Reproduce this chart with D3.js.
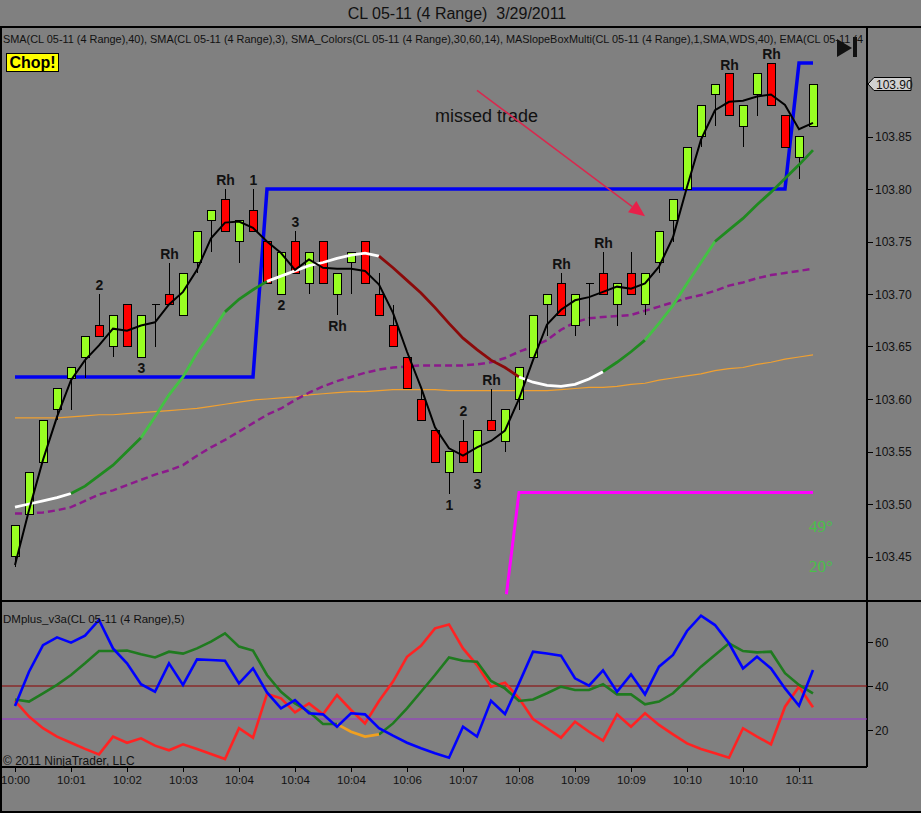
<!DOCTYPE html>
<html><head><meta charset="utf-8">
<script src="https://cdn.jsdelivr.net/npm/d3@7"></script>
<style>
html,body{margin:0;padding:0;background:#808080;overflow:hidden;}
svg{display:block;font-family:Arial,"Liberation Sans",sans-serif;}
</style>
</head><body>
<svg id="c" width="921" height="813"></svg>
<script>
// ---------------- DATA ----------------
const opens=[103.45,103.49,103.54,103.59,103.62,103.64,103.67,103.65,103.69,103.64,103.69,103.70,103.68,103.73,103.77,103.79,103.75,103.78,103.75,103.70,103.75,103.71,103.75,103.70,103.73,103.75,103.70,103.67,103.64,103.60,103.57,103.53,103.56,103.53,103.58,103.56,103.60,103.64,103.69,103.71,103.67,103.71,103.72,103.69,103.72,103.69,103.73,103.77,103.80,103.85,103.89,103.91,103.86,103.89,103.92,103.87,103.83,103.86];
const highs=[103.48,103.53,103.58,103.61,103.63,103.66,103.70,103.68,103.69,103.68,103.69,103.73,103.72,103.76,103.78,103.80,103.77,103.80,103.75,103.74,103.76,103.74,103.75,103.72,103.74,103.75,103.72,103.69,103.64,103.61,103.57,103.55,103.58,103.57,103.61,103.59,103.63,103.68,103.70,103.72,103.70,103.71,103.74,103.71,103.74,103.72,103.76,103.79,103.84,103.88,103.90,103.91,103.88,103.91,103.92,103.87,103.85,103.90];
const lows=[103.44,103.49,103.54,103.58,103.59,103.62,103.66,103.64,103.65,103.64,103.65,103.69,103.68,103.72,103.74,103.76,103.73,103.76,103.71,103.70,103.72,103.70,103.71,103.68,103.70,103.71,103.68,103.65,103.61,103.58,103.54,103.51,103.54,103.53,103.57,103.55,103.59,103.64,103.66,103.68,103.66,103.67,103.70,103.67,103.70,103.68,103.72,103.75,103.80,103.84,103.86,103.87,103.84,103.87,103.88,103.84,103.81,103.86];
const closes=[103.48,103.53,103.58,103.61,103.63,103.66,103.66,103.68,103.65,103.68,103.69,103.69,103.72,103.76,103.78,103.76,103.77,103.76,103.71,103.74,103.72,103.74,103.71,103.72,103.74,103.71,103.68,103.65,103.61,103.58,103.54,103.55,103.54,103.57,103.57,103.59,103.63,103.68,103.70,103.68,103.70,103.71,103.70,103.71,103.70,103.72,103.76,103.79,103.84,103.88,103.90,103.87,103.88,103.91,103.88,103.84,103.85,103.90];

// SMA(3) (black line)
const sma3=[103.442,103.494,103.542,103.583,103.618,103.637,103.651,103.667,103.665,103.670,103.673,103.690,103.702,103.723,103.753,103.768,103.769,103.763,103.750,103.739,103.723,103.733,103.725,103.724,103.724,103.722,103.709,103.682,103.645,103.611,103.573,103.553,103.546,103.554,103.560,103.570,103.600,103.637,103.671,103.685,103.694,103.697,103.702,103.707,103.705,103.710,103.726,103.754,103.802,103.847,103.875,103.883,103.884,103.888,103.890,103.880,103.857,103.863];

// SMA_Colors (multi-colour line) and its per-segment state
const smaColors=[103.497,103.500,103.503,103.506,103.510,103.517,103.527,103.537,103.550,103.563,103.583,103.604,103.621,103.644,103.663,103.683,103.695,103.704,103.712,103.717,103.722,103.727,103.730,103.734,103.737,103.739,103.736,103.725,103.713,103.701,103.687,103.672,103.658,103.647,103.637,103.630,103.621,103.616,103.613,103.612,103.614,103.619,103.626,103.635,103.645,103.656,103.672,103.689,103.710,103.730,103.750,103.761,103.772,103.785,103.797,103.810,103.823,103.837];
const smaColorState=("ffff"+"uuuuu"+"ssssss"+"uuu"+"ffffffff"+"dddddddddd"+"ffffff"+"uuu"+"sssss"+"uuuuuuu").split("");

// EMA (purple dashed)
const emaLine=[103.491,103.491,103.492,103.494,103.497,103.503,103.509,103.513,103.518,103.523,103.528,103.532,103.537,103.546,103.554,103.561,103.569,103.577,103.585,103.591,103.599,103.606,103.612,103.617,103.621,103.625,103.628,103.630,103.631,103.632,103.632,103.632,103.632,103.633,103.635,103.639,103.645,103.650,103.656,103.666,103.673,103.677,103.678,103.679,103.680,103.684,103.688,103.692,103.696,103.699,103.703,103.708,103.711,103.715,103.718,103.720,103.722,103.724];

// SMA(40) (orange thin)
const sma40=[103.582,103.582,103.582,103.582,103.583,103.584,103.585,103.585,103.586,103.587,103.588,103.589,103.590,103.591,103.593,103.595,103.597,103.599,103.600,103.601,103.602,103.604,103.605,103.606,103.607,103.607,103.608,103.609,103.609,103.609,103.609,103.608,103.608,103.608,103.608,103.608,103.608,103.608,103.608,103.609,103.610,103.611,103.611,103.612,103.614,103.615,103.618,103.620,103.622,103.624,103.627,103.629,103.630,103.633,103.635,103.638,103.640,103.642];

// MASlopeBox (blue step) and magenta box
const blueIdx=[0,17,18,55,56,57];
const blueVal=[103.621,103.621,103.80,103.80,103.92,103.92];
const magentaIdx=[35.1,36,57];
const magentaVal=[103.414,103.511,103.511];

// Bar labels: [bar index, text, side]
const barLabels=[[6,"2","a"],[9,"3","b"],[11,"Rh","a"],[15,"Rh","a"],[17,"1","a"],[19,"2","b"],[20,"3","a"],[23,"Rh","b"],[31,"1","b"],[32,"2","a"],[33,"3","b"],[34,"Rh","a"],[39,"Rh","a"],[42,"Rh","a"],[51,"Rh","a"],[54,"Rh","a"]];

// Annotation: "missed trade" text and arrow (bar index, price)
const noteText="missed trade";
const notePos=[30,103.864];
const arrowFrom=[33,103.894];
const arrowTo=[45,103.774];

// Axis ticks
const priceTicks=[103.45,103.50,103.55,103.60,103.65,103.70,103.75,103.80,103.85];
const timeTickIdx=[0,4,8,12,16,20,24,28,32,36,40,44,48,52,56];
const timeTickLabels=["10:00","10:01","10:02","10:03","10:04","10:04","10:04","10:06","10:07","10:08","10:09","10:09","10:10","10:10","10:11"];
const dmTicks=[20,40,60];
const dmRefLevels=[40,25];

// DMplus panel
const dmBlue=[30.9,46.5,58.6,62.1,59.7,62.9,70,57.1,50.3,40.8,37.4,50.3,40.5,52.1,51.8,51.5,41.2,48,37.1,29.8,33.6,27.6,27.1,21.5,27.6,27.1,20.8,17.4,14.2,11.7,9.4,7.4,21.5,17,33.3,27.3,41.2,55.6,54.8,53.8,43.5,40.2,47.1,37.4,45.3,36.2,48.8,54.1,65,72,67.7,59.4,48,53.3,48,38.9,31,47.3];
const dmGreen=[33.9,32.9,36.7,40.5,45,50.3,55.9,55.9,56.1,54.4,53,55.6,54.7,57.1,60.2,63.9,57.9,56.1,45,37.4,32.1,28.3,22.7,22.7,19.2,17,18,23,29.8,37.4,45,53,51.5,51,42.3,38.9,33.2,33.9,36.7,39.7,38.2,38.2,40.8,36.2,36.2,31.7,32.9,36.7,42.7,48.8,54.1,59.4,55.9,55.3,55.6,45.8,40.5,36.7];
const dmRed=[33.2,26.1,20.8,17,14.2,11.4,8.9,17,14.2,16.2,12.9,10.8,13.5,11.4,9.1,6.8,20.8,16.5,36.4,34.4,28,32.1,27.1,35.9,29.1,23,33.2,42,53.3,58.3,66.2,68,57.1,49.5,39.7,41.5,34.4,25,20.8,16.5,23.8,19.2,15.2,27.1,21.5,27.6,22.3,18,13.9,11.4,9.4,7.4,20.8,17,13.5,30.6,39.7,30.3];
const dmGreenOrangeRun=[23,26];

const titleText="CL 05-11 (4 Range)\u00A0\u00A03/29/2011";
const indicatorText="SMA(CL 05-11 (4 Range),40), SMA(CL 05-11 (4 Range),3), SMA_Colors(CL 05-11 (4 Range),30,60,14), MASlopeBoxMulti(CL 05-11 (4 Range),1,SMA,WDS,40), EMA(CL 05-11 (4";
const dmText="DMplus_v3a(CL 05-11 (4 Range),5)";
const copyText="\u00A9 2011 NinjaTrader, LLC";

// ---------------- LAYOUT ----------------
const W=921,H=813;
const axisX=867;
const mainTop=27, mainBot=601, lowTop=601, lowBot=767;
const svg=d3.select("#c");
const n=closes.length;

const x=d3.scaleLinear().domain([0,57]).range([15,813]);
const y=d3.scaleLinear().domain([103.45,103.90]).range([556.5,84]);
const yd=d3.scaleLinear().domain([20,60]).range([730,642]);

const defs=svg.append("defs");
defs.append("clipPath").attr("id","cm").append("rect").attr("x",2).attr("y",mainTop+1).attr("width",axisX-2).attr("height",mainBot-mainTop-1);
defs.append("clipPath").attr("id","cl").append("rect").attr("x",2).attr("y",lowTop+1).attr("width",axisX-2).attr("height",lowBot-lowTop-1);

svg.append("rect").attr("width",W).attr("height",H).attr("fill","#808080");

// title
svg.append("text").attr("x",457).attr("y",19).attr("text-anchor","middle")
  .attr("font-size",16).attr("fill","#111").text(titleText);

// frame lines
const frame=svg.append("g").attr("stroke","#000").attr("stroke-width",1.2).attr("shape-rendering","crispEdges");
frame.append("line").attr("x1",0).attr("x2",W).attr("y1",mainTop).attr("y2",mainTop);
frame.append("line").attr("x1",0).attr("x2",W).attr("y1",mainBot).attr("y2",mainBot);
frame.append("line").attr("x1",0).attr("x2",axisX).attr("y1",lowBot).attr("y2",lowBot);
frame.append("line").attr("x1",1).attr("x2",1).attr("y1",mainTop).attr("y2",812);
frame.append("line").attr("x1",0).attr("x2",W).attr("y1",812).attr("y2",812);
frame.append("line").attr("x1",axisX).attr("x2",axisX).attr("y1",mainTop).attr("y2",lowBot);

// indicator line text
svg.append("text").attr("x",3).attr("y",43).attr("font-size",11)
  .attr("fill","#111").attr("textLength",860).attr("lengthAdjust","spacingAndGlyphs").text(indicatorText);

// ---------- main panel ----------
const gm=svg.append("g").attr("clip-path","url(#cm)");

// orange SMA40
gm.append("path").datum(sma40).attr("fill","none").attr("stroke","#f0a030").attr("stroke-width",1.2)
  .attr("d",d3.line().x((d,i)=>x(i)).y(d=>y(d)));
// purple dashed EMA
gm.append("path").datum(emaLine).attr("fill","none").attr("stroke","#8b1a8b").attr("stroke-width",2.5)
  .attr("stroke-dasharray","7,4").attr("d",d3.line().x((d,i)=>x(i)).y(d=>y(d)));
// blue step
gm.append("path").datum(blueIdx.map((b,k)=>[b,blueVal[k]])).attr("fill","none").attr("stroke","#0000f0")
  .attr("stroke-width",3.5).attr("d",d3.line().x(d=>x(d[0])).y(d=>y(d[1])));
// magenta
gm.append("path").datum(magentaIdx.map((b,k)=>[b,magentaVal[k]])).attr("fill","none").attr("stroke","#ff00ff")
  .attr("stroke-width",3).attr("d",d3.line().x(d=>x(d[0])).y(d=>y(d[1])));

// candles
const up="#99ff22", dn="#ff0000";
const cg=gm.append("g").attr("shape-rendering","crispEdges");
d3.range(n).forEach(i=>{
  const cx=Math.round(x(i))+0.5;
  const o=opens[i], c=closes[i];
  cg.append("line").attr("x1",cx).attr("x2",cx).attr("y1",y(highs[i])).attr("y2",y(lows[i]))
    .attr("stroke","#000").attr("stroke-width",1);
  const top=y(Math.max(o,c)), bot=y(Math.min(o,c));
  if(Math.abs(bot-top)<1){
    cg.append("line").attr("x1",cx-4).attr("x2",cx+4).attr("y1",top).attr("y2",top).attr("stroke","#000").attr("stroke-width",1);
  } else {
    cg.append("rect").attr("x",cx-4).attr("width",8).attr("y",top).attr("height",bot-top)
      .attr("fill",c>=o?up:dn).attr("stroke","#000").attr("stroke-width",1);
  }
});

// SMA_Colors multicolour
const stateColor={f:"#ffffff",u:"#1f8a1f",s:"#44c244",d:"#8b0a0a"};
let runStart=0;
for(let i=1;i<=smaColorState.length;i++){
  if(i===smaColorState.length || smaColorState[i]!==smaColorState[runStart]){
    const pts=d3.range(runStart,i+1).map(k=>[k,smaColors[k]]);
    gm.append("path").datum(pts).attr("fill","none").attr("stroke",stateColor[smaColorState[runStart]])
      .attr("stroke-width",2.8).attr("d",d3.line().x(d=>x(d[0])).y(d=>y(d[1])));
    runStart=i;
  }
}
// black SMA3
gm.append("path").datum(sma3).attr("fill","none").attr("stroke","#000").attr("stroke-width",2)
  .attr("d",d3.line().x((d,i)=>x(i)).y(d=>y(d)));

// bar labels
barLabels.forEach(([i,t,s])=>{
  const yy= s==="a" ? y(highs[i])-4 : y(lows[i])+16;
  gm.append("text").attr("x",x(i)+0.5).attr("y",yy).attr("text-anchor","middle")
    .attr("font-size",14).attr("font-weight","bold").attr("fill","#111").text(t);
});

// annotation
gm.append("text").attr("x",x(notePos[0])).attr("y",y(notePos[1])).attr("font-size",18).attr("fill","#111").text(noteText);
{
  const x1=x(arrowFrom[0]), y1=y(arrowFrom[1]), x2=x(arrowTo[0]), y2=y(arrowTo[1]);
  const ang=Math.atan2(y2-y1,x2-x1), L=16, Wd=7;
  const bx=x2-L*Math.cos(ang), by=y2-L*Math.sin(ang);
  gm.append("line").attr("x1",x1).attr("y1",y1).attr("x2",bx).attr("y2",by).attr("stroke","#d8284e").attr("stroke-width",1.5);
  gm.append("path").attr("fill","#e8204a")
    .attr("d",`M${x2},${y2}L${bx+Wd*Math.sin(ang)},${by-Wd*Math.cos(ang)}L${bx-Wd*Math.sin(ang)},${by+Wd*Math.cos(ang)}Z`);
}

// Chop! box
svg.append("rect").attr("x",6.5).attr("y",53.5).attr("width",52).attr("height",18).attr("fill","#ffff00").attr("stroke","#000").attr("stroke-width",1);
svg.append("text").attr("x",32.5).attr("y",68).attr("text-anchor","middle").attr("font-size",16).attr("font-weight","bold").attr("fill","#000").text("Chop!");

// play-to-end icon
svg.append("path").attr("d","M837,39L837,57L852,48Z").attr("fill","#111");
svg.append("rect").attr("x",853).attr("y",37).attr("width",4).attr("height",20).attr("fill","#111");

// angle texts
svg.append("text").attr("x",809).attr("y",532).attr("font-size",17).attr("font-family","'Liberation Serif',serif").attr("fill","#48c048").text("49\u00B0");
svg.append("text").attr("x",809).attr("y",572).attr("font-size",17).attr("font-family","'Liberation Serif',serif").attr("fill","#48c048").text("20\u00B0");

// price axis
const pa=svg.append("g");
priceTicks.forEach(v=>{
  pa.append("line").attr("x1",axisX).attr("x2",axisX+6).attr("y1",Math.round(y(v))+0.5).attr("y2",Math.round(y(v))+0.5).attr("stroke","#000");
  pa.append("text").attr("x",axisX+8).attr("y",y(v)+4.5).attr("font-size",12).attr("fill","#111").text(v.toFixed(2));
});
// last price marker
{
  const py=y(closes[n-1]);
  pa.append("path").attr("d",`M${axisX+1},${py}L${axisX+7},${py-6.5}L${axisX+44},${py-6.5}L${axisX+44},${py+6.5}L${axisX+7},${py+6.5}Z`)
    .attr("fill","#d0d0d0").attr("stroke","#000").attr("stroke-width",1);
  pa.append("text").attr("x",axisX+9).attr("y",py+4.5).attr("font-size",12).attr("fill","#111").text(closes[n-1].toFixed(2));
}

// ---------- lower panel ----------
const gl=svg.append("g").attr("clip-path","url(#cl)");
const refColors=["#8b0000","#9a30d0"];
dmRefLevels.forEach((v,k)=>{
  gl.append("line").attr("x1",2).attr("x2",axisX).attr("y1",yd(v)).attr("y2",yd(v)).attr("stroke",refColors[k]).attr("stroke-width",1.2);
});
const dl=d3.line().x(d=>x(d[0])).y(d=>yd(d[1]));
gl.append("path").datum(dmRed.map((v,i)=>[i,v])).attr("fill","none").attr("stroke","#ff2222").attr("stroke-width",2.6).attr("d",dl);
gl.append("path").datum(dmGreen.map((v,i)=>[i,v]).filter(d=>d[0]<=dmGreenOrangeRun[0])).attr("fill","none").attr("stroke","#1f7a1f").attr("stroke-width",2.6).attr("d",dl);
gl.append("path").datum(dmGreen.map((v,i)=>[i,v]).filter(d=>d[0]>=dmGreenOrangeRun[1])).attr("fill","none").attr("stroke","#1f7a1f").attr("stroke-width",2.6).attr("d",dl);
gl.append("path").datum(dmGreen.map((v,i)=>[i,v]).filter(d=>d[0]>=dmGreenOrangeRun[0]&&d[0]<=dmGreenOrangeRun[1])).attr("fill","none").attr("stroke","#f0a020").attr("stroke-width",2.6).attr("d",dl);
gl.append("path").datum(dmBlue.map((v,i)=>[i,v])).attr("fill","none").attr("stroke","#0000ff").attr("stroke-width",2.6).attr("d",dl);

svg.append("text").attr("x",3).attr("y",623).attr("font-size",11.5).attr("fill","#111").text(dmText);
svg.append("text").attr("x",3).attr("y",765).attr("font-size",12).attr("fill","#111").text(copyText);

dmTicks.forEach(v=>{
  svg.append("line").attr("x1",axisX).attr("x2",axisX+6).attr("y1",Math.round(yd(v))+0.5).attr("y2",Math.round(yd(v))+0.5).attr("stroke","#000");
  svg.append("text").attr("x",axisX+8).attr("y",yd(v)+4.5).attr("font-size",12).attr("fill","#111").text(v);
});

// time axis
timeTickIdx.forEach((b,k)=>{
  const tx=Math.round(x(b))+0.5;
  svg.append("line").attr("x1",tx).attr("x2",tx).attr("y1",lowBot).attr("y2",lowBot+5).attr("stroke","#000");
  svg.append("text").attr("x",tx).attr("y",784).attr("text-anchor","middle").attr("font-size",11.5).attr("fill","#111").text(timeTickLabels[k]);
});
</script>
</body></html>
